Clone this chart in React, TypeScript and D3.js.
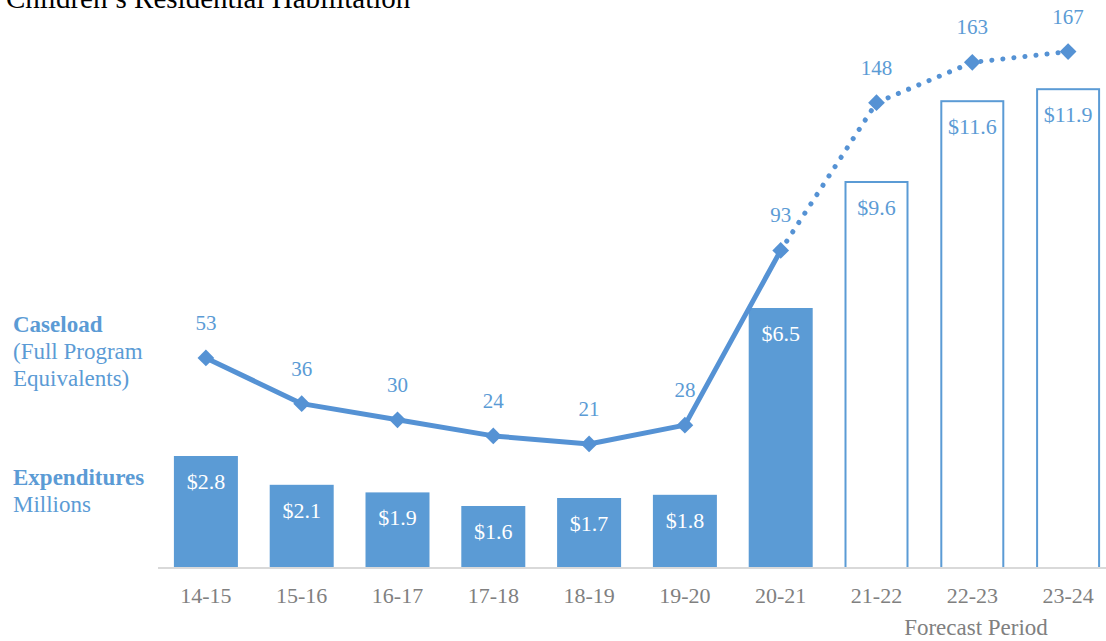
import React from "react";
import * as d3 from "d3";

const categories = ["14-15", "15-16", "16-17", "17-18", "18-19", "19-20", "20-21", "21-22", "22-23", "23-24"];
const expenditures = [2.8, 2.1, 1.9, 1.6, 1.7, 1.8, 6.5, 9.6, 11.6, 11.9];
const expenditureHeights = [2.8, 2.08, 1.89, 1.55, 1.75, 1.83, 6.5, 9.65, 11.67, 11.97];
const caseload = [53, 36, 30, 24, 21, 28, 93, 148, 163, 167];
const forecast = [false, false, false, false, false, false, false, true, true, true];
const lastActualIndex = 6;

const BLUE = "#5B9BD5";
const LINE = "#5592D4";
const FONT = "'Liberation Serif', 'Times New Roman', serif";

export default function App() {
  const W = 1106, H = 641;
  const x = d3.scaleBand<string>().domain(categories).range([158, 1116]).paddingInner(0.332).paddingOuter(0.166);
  const yBar = d3.scaleLinear().domain([0, 12]).range([568, 88]);
  const yLine = d3.scaleLinear().domain([0, 167]).range([500.4, 51.6]);
  const cx = (i: number) => (x(categories[i]) as number) + x.bandwidth() / 2;

  const pts: [number, number][] = caseload.map((v, i) => [cx(i), yLine(v)]);
  const line = d3.line();
  const solidPath = line(pts.slice(0, lastActualIndex + 1)) as string;
  const dottedPath = line(pts.slice(lastActualIndex)) as string;
  const diamond = d3.symbol().type(d3.symbolSquare).size(140)() as string;

  return (
    <svg width={W} height={H} style={{ position: "absolute", left: 0, top: 0 }} fontFamily={FONT}>
      <rect width={W} height={H} fill="#fff" />
      <text x={6} y={8} fontSize={29} fill="#000">Children’s Residential Habilitation</text>

      {/* legend */}
      <g fill={BLUE} fontSize={23}>
        <text x={13} y={332} fontWeight="bold">Caseload</text>
        <text x={13} y={359}>(Full Program</text>
        <text x={13} y={386}>Equivalents)</text>
        <text x={13} y={485} fontWeight="bold">Expenditures</text>
        <text x={13} y={512}>Millions</text>
      </g>

      {/* bars */}
      {categories.map((c, i) => {
        const top = yBar(expenditureHeights[i]);
        const bx = x(c) as number;
        return forecast[i] ? (
          <rect key={c} x={bx + 1} y={top} width={x.bandwidth() - 2} height={yBar(0) - top} fill="#fff" stroke={BLUE} strokeWidth={2} />
        ) : (
          <rect key={c} x={bx} y={top} width={x.bandwidth()} height={yBar(0) - top} fill={BLUE} />
        );
      })}
      {categories.map((c, i) => (
        <text key={"bl" + c} x={cx(i)} y={yBar(expenditureHeights[i]) + 33} textAnchor="middle" fontSize={22}
          fill={forecast[i] ? BLUE : "#fff"}>
          {"$" + expenditures[i].toFixed(1)}
        </text>
      ))}

      {/* axis */}
      <line x1={158} x2={W} y1={yBar(0)} y2={yBar(0)} stroke="#d9d9d9" strokeWidth={2} />
      {categories.map((c, i) => (
        <text key={"ax" + c} x={cx(i)} y={603} textAnchor="middle" fontSize={22} fill="#808080">{c}</text>
      ))}
      <text x={976} y={635} textAnchor="middle" fontSize={23} fill="#808080">Forecast Period</text>

      {/* caseload line */}
      <path d={solidPath} fill="none" stroke={LINE} strokeWidth={5} strokeLinejoin="round" />
      <path d={dottedPath} fill="none" stroke={LINE} strokeWidth={5} strokeLinecap="round" strokeDasharray="0.1 11" />
      {pts.map(([px, py], i) => (
        <path key={"m" + i} d={diamond} transform={`translate(${px},${py}) rotate(45)`} fill={LINE} />
      ))}
      {pts.map(([px, py], i) => (
        <text key={"cl" + i} x={px} y={py - 28} textAnchor="middle" fontSize={21} fill={BLUE}>{caseload[i]}</text>
      ))}
    </svg>
  );
}
